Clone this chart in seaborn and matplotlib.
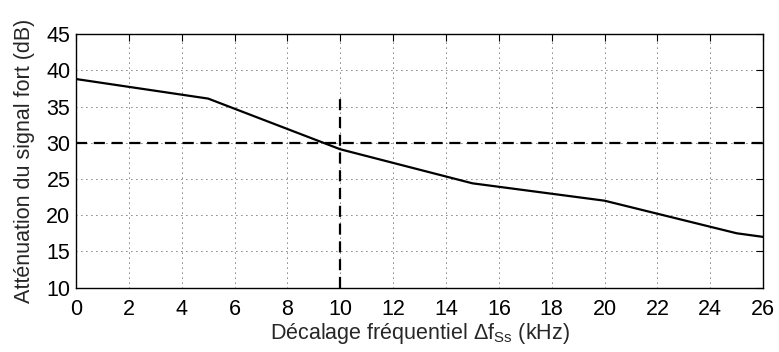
import numpy as np
import pandas as pd
import matplotlib
matplotlib.use("Agg")
import matplotlib.pyplot as plt
import seaborn as sb

# values
shift_khz = [0, 5, 10, 15, 20, 25, 26]
attenuation_db = [38.8, 36.1, 29.1, 24.4, 22.0, 17.5, 17.0]
threshold_db = 30
cut_khz = 10
cut_top_db = 36.3

x_ticks = list(range(0, 27, 2))
y_ticks = list(range(10, 46, 5))

df = pd.DataFrame({"shift": shift_khz, "att": attenuation_db})

sb.set_style("white")
plt.rcParams['font.family'] = ['Liberation Sans', 'DejaVu Sans']
plt.rcParams['mathtext.fontset'] = 'custom'
plt.rcParams['mathtext.rm'] = 'Liberation Sans'
plt.rcParams['mathtext.it'] = 'Liberation Sans'

fig = plt.figure(figsize=(7.79, 3.52), dpi=100)
ax = fig.add_axes([0.0976, 0.183, 0.882, 0.72])

sb.lineplot(data=df, x="shift", y="att", color="black", linewidth=1.6, ax=ax)
ax.axhline(threshold_db, color="black", linestyle=(0, (5, 3)), linewidth=1.6)
ax.plot([cut_khz, cut_khz], [10, cut_top_db], color="black",
        linestyle=(0, (5, 3)), linewidth=1.6)

ax.set_xlim(0, 26)
ax.set_ylim(10, 45)
ax.set_xticks(x_ticks)
ax.set_yticks(y_ticks)
ax.grid(True, color="black", linestyle=(0, (1, 5)), linewidth=0.6)
ax.tick_params(direction="in", length=5, labelsize=15.5, colors="black",
               top=True, right=True, width=0.8)
ax.tick_params(axis="x", pad=8)
ax.tick_params(axis="y", pad=4)
for s in ax.spines.values():
    s.set_color("black")
    s.set_linewidth(1.0)

ax.set_xlabel(r"Décalage fréquentiel $\Delta$f$_{\rm Ss}$ (kHz)", fontsize=15.5, labelpad=1)
ax.set_ylabel("Atténuation du signal fort (dB)", fontsize=15.5, labelpad=8)

fig.savefig("out.png", dpi=100)
